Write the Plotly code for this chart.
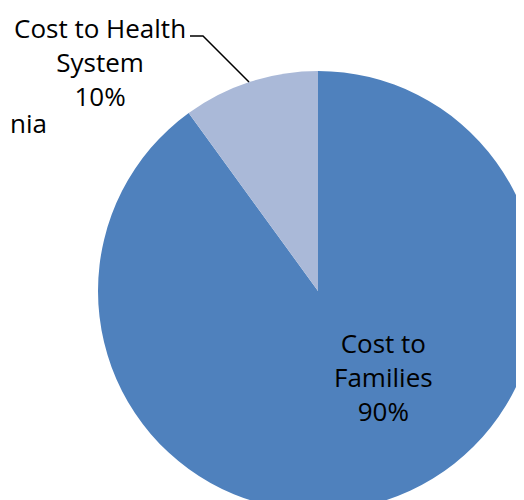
import plotly.graph_objects as go

labels = ["Cost to Families", "Cost to Health System"]
values = [90, 10]
colors = ["#4F81BD", "#AAB9D8"]
side_text = ["nia"]

W, H = 540, 512
OFF = 8  # page body margin
# pie circle in screenshot pixel space
cx, cy, r = 318, 291, 220

def px(x, y):
    return (x - OFF) / W, 1 - (y - OFF) / H

x0, y0 = px(cx - r, cy + r)
x1, y1 = px(cx + r, cy - r)
fig = go.Figure(go.Pie(
    labels=labels, values=values, sort=False, direction="clockwise", rotation=0,
    marker=dict(colors=colors, line=dict(width=0)),
    textinfo="none", hoverinfo="label+percent", showlegend=False,
    domain=dict(x=[x0, x1], y=[y0, y1]),
))

total = sum(values)
pct = [round(v * 100 / total) for v in values]
font = dict(family="Open Sans", size=26, color="#000000")

fx, fy = px(383, 377)
fig.add_annotation(x=fx, y=fy, xref="paper", yref="paper", showarrow=False,
                   xanchor="center", yanchor="middle",
                   text="Cost to<br>Families<br>%d%%" % pct[0], font=font, align="center")
hx, hy = px(100, 62)
fig.add_annotation(x=hx, y=hy, xref="paper", yref="paper", showarrow=False,
                   xanchor="center", yanchor="middle",
                   text="Cost to Health<br>System<br>%d%%" % pct[1], font=font, align="center")
p1 = px(190, 36); p2 = px(203, 36); p3 = px(249, 82)
fig.add_shape(type="path", xref="paper", yref="paper",
              path="M %f,%f L %f,%f L %f,%f" % (p1[0], p1[1], p2[0], p2[1], p3[0], p3[1]),
              line=dict(color="#000000", width=1.5))
sx, sy = px(8, 123)
fig.add_annotation(x=sx, y=sy, xref="paper", yref="paper", showarrow=False,
                   xanchor="left", yanchor="middle",
                   text="<br>".join(side_text), font=font, align="left")

fig.update_layout(width=W, height=H, margin=dict(l=0, r=0, t=0, b=0),
                  paper_bgcolor="white", plot_bgcolor="white")
fig.write_html("out.html")
